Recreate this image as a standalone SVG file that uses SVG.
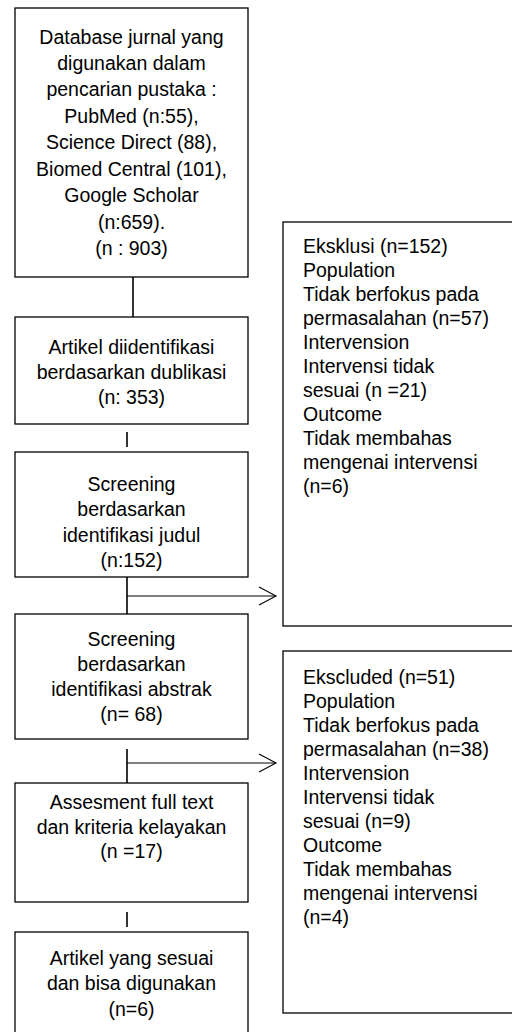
<svg xmlns="http://www.w3.org/2000/svg" width="512" height="1032" viewBox="0 0 512 1032">
<style>
  .box { fill: #ffffff; stroke: #000000; stroke-width: 1.3; }
  .t { font-family: "Liberation Sans", Arial, sans-serif; font-size: 19.5px; fill: #000000; }
  .c { text-anchor: middle; }
  .ln { stroke: #000000; stroke-width: 1.6; fill: none; }
  .ar { stroke: #000000; stroke-width: 1.1; fill: none; }
</style>
<rect x="0" y="0" width="512" height="1032" fill="#ffffff"/>
<g id="connectors">
  <line class="ln" x1="133" y1="277" x2="133" y2="317"/>
  <line class="ln" x1="127" y1="432" x2="127" y2="447"/>
  <line class="ln" x1="127" y1="570" x2="127" y2="614"/>
  <line class="ar" x1="127" y1="596" x2="276" y2="596"/>
  <polyline class="ar" points="259,587 276,596 259,605"/>
  <line class="ln" x1="127" y1="749" x2="127" y2="783"/>
  <line class="ar" x1="127" y1="763" x2="276" y2="763"/>
  <polyline class="ar" points="259,754 276,763 259,772"/>
  <line class="ln" x1="127" y1="912" x2="127" y2="927"/>
</g>
<g id="n1">
  <rect class="box" x="15" y="8" width="233" height="269"/>
  <text class="t c" x="131.5" y="44">Database jurnal yang</text>
  <text class="t c" x="131.5" y="70">digunakan dalam</text>
  <text class="t c" x="131.5" y="96">pencarian pustaka :</text>
  <text class="t c" x="131.5" y="122.5">PubMed (n:55),</text>
  <text class="t c" x="131.5" y="149">Science Direct (88),</text>
  <text class="t c" x="131.5" y="175.5">Biomed Central (101),</text>
  <text class="t c" x="131.5" y="202">Google Scholar</text>
  <text class="t c" x="131.5" y="228.5">(n:659).</text>
  <text class="t c" x="131.5" y="255">(n : 903)</text>
</g>
<g id="n2">
  <rect class="box" x="15" y="317" width="233" height="107"/>
  <text class="t c" x="131.5" y="354">Artikel diidentifikasi</text>
  <text class="t c" x="131.5" y="379">berdasarkan dublikasi</text>
  <text class="t c" x="131.5" y="404">(n: 353)</text>
</g>
<g id="n3">
  <rect class="box" x="15" y="452" width="233" height="125"/>
  <text class="t c" x="131.5" y="491">Screening</text>
  <text class="t c" x="131.5" y="516">berdasarkan</text>
  <text class="t c" x="131.5" y="542">identifikasi judul</text>
  <text class="t c" x="131.5" y="567">(n:152)</text>
</g>
<g id="n4">
  <rect class="box" x="15" y="614" width="233" height="125"/>
  <text class="t c" x="131.5" y="646">Screening</text>
  <text class="t c" x="131.5" y="671">berdasarkan</text>
  <text class="t c" x="131.5" y="696">identifikasi abstrak</text>
  <text class="t c" x="131.5" y="721">(n= 68)</text>
</g>
<g id="n5">
  <rect class="box" x="15" y="783" width="233" height="119"/>
  <text class="t c" x="131.5" y="809">Assesment full text</text>
  <text class="t c" x="131.5" y="834">dan kriteria kelayakan</text>
  <text class="t c" x="131.5" y="858">(n =17)</text>
</g>
<g id="n6">
  <rect class="box" x="15" y="932" width="233" height="110"/>
  <text class="t c" x="131.5" y="965">Artikel yang sesuai</text>
  <text class="t c" x="131.5" y="990">dan bisa digunakan</text>
  <text class="t c" x="131.5" y="1016">(n=6)</text>
</g>
<g id="n7">
  <rect class="box" x="283" y="222" width="240" height="404"/>
  <text class="t" x="303" y="253">Eksklusi (n=152)</text>
  <text class="t" x="303" y="277">Population</text>
  <text class="t" x="303" y="301">Tidak berfokus pada</text>
  <text class="t" x="303" y="325">permasalahan (n=57)</text>
  <text class="t" x="303" y="349">Intervension</text>
  <text class="t" x="303" y="373">Intervensi tidak</text>
  <text class="t" x="303" y="397">sesuai (n =21)</text>
  <text class="t" x="303" y="421">Outcome</text>
  <text class="t" x="303" y="445">Tidak membahas</text>
  <text class="t" x="303" y="469">mengenai intervensi</text>
  <text class="t" x="303" y="493">(n=6)</text>
</g>
<g id="n8">
  <rect class="box" x="283" y="651" width="240" height="362"/>
  <text class="t" x="303" y="684">Ekscluded (n=51)</text>
  <text class="t" x="303" y="708">Population</text>
  <text class="t" x="303" y="732">Tidak berfokus pada</text>
  <text class="t" x="303" y="756">permasalahan (n=38)</text>
  <text class="t" x="303" y="780">Intervension</text>
  <text class="t" x="303" y="804">Intervensi tidak</text>
  <text class="t" x="303" y="828">sesuai (n=9)</text>
  <text class="t" x="303" y="852">Outcome</text>
  <text class="t" x="303" y="876">Tidak membahas</text>
  <text class="t" x="303" y="900">mengenai intervensi</text>
  <text class="t" x="303" y="924">(n=4)</text>
</g>
</svg>
